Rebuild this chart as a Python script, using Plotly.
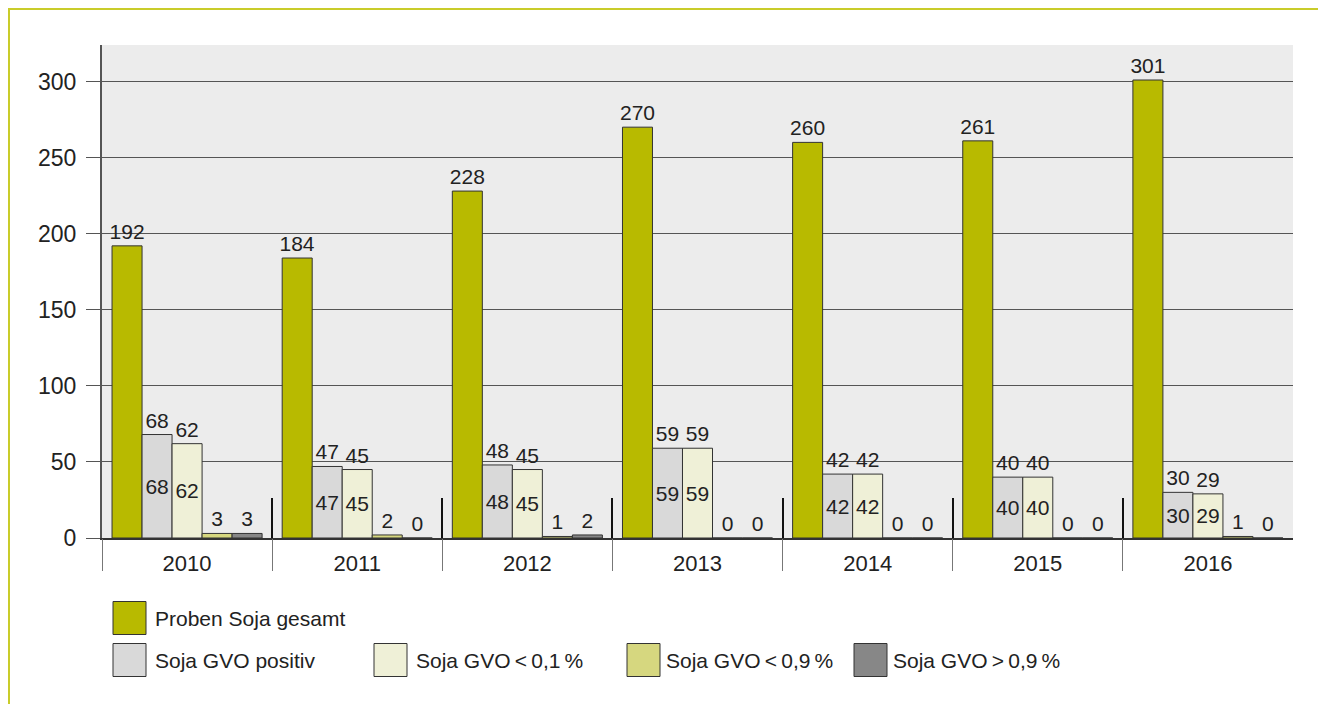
import plotly.graph_objects as go

years = ["2010", "2011", "2012", "2013", "2014", "2015", "2016"]
proben_gesamt = [192, 184, 228, 270, 260, 261, 301]
gvo_positiv = [68, 47, 48, 59, 42, 40, 30]
gvo_lt_01 = [62, 45, 45, 59, 42, 40, 29]
gvo_lt_09 = [3, 2, 1, 0, 0, 0, 1]
gvo_gt_09 = [3, 0, 2, 0, 0, 0, 0]

series_names = ["Proben Soja gesamt", "Soja GVO positiv", "Soja GVO\u2009<\u20090,1\u2009%",
                "Soja GVO\u2009<\u20090,9\u2009%", "Soja GVO\u2009>\u20090,9\u2009%"]
series_values = [proben_gesamt, gvo_positiv, gvo_lt_01, gvo_lt_09, gvo_gt_09]
series_colors = ["#b8ba00", "#d9d9d9", "#eff0d7", "#d6d77f", "#878787"]
inside_label_series = [1, 2]

FONT = "Liberation Sans"
TXT = "#222222"

# page is offset by the 8px body margin
OFF = 8
W, H = 1326 - OFF, 704 - OFF
ML, MR, MT, MB = 94, 33, 37, 166
PW = W - ML - MR
PH = H - MT - MB


def px2x(px):
    return (px - OFF - ML) / PW


def px2y(py):
    return (H - MB - (py - OFF)) / PH


fig = go.Figure()

for i, (name, vals, col) in enumerate(zip(series_names, series_values, series_colors)):
    fig.add_trace(go.Bar(
        x=years, y=vals, name=name, offsetgroup=str(i),
        marker=dict(color=col, line=dict(color="#333333", width=1)),
        text=[str(v) for v in vals], textposition="outside", cliponaxis=False,
        constraintext="none",
        textfont=dict(family=FONT, size=21, color=TXT),
        showlegend=False, hoverinfo="x+y",
    ))

for i in inside_label_series:
    vals = series_values[i]
    fig.add_trace(go.Bar(
        x=years, y=vals, offsetgroup=str(i),
        marker=dict(color="rgba(0,0,0,0)", line=dict(width=0)),
        text=[str(v) for v in vals], textposition="inside", insidetextanchor="middle",
        constraintext="none",
        textfont=dict(family=FONT, size=21, color=TXT),
        showlegend=False, hoverinfo="skip",
    ))

# empty helper traces so the overlaying tick axes get drawn
for ax in ["x2", "x3"]:
    fig.add_trace(go.Scatter(x=[], y=[], xaxis=ax, yaxis="y", showlegend=False,
                             hoverinfo="skip"))

boundaries = [i - 0.5 for i in range(len(years))]

fig.update_layout(
    width=W, height=H,
    margin=dict(l=ML, r=MR, t=MT, b=MB),
    paper_bgcolor="white", plot_bgcolor="#ececec",
    barmode="group", bargap=0.118, bargroupgap=0,
    font=dict(family=FONT, size=22, color=TXT),
    xaxis=dict(type="category", range=[-0.5, len(years) - 0.5], ticks="",
               showline=True, linecolor="#333333", linewidth=1.5,
               ticklabelstandoff=5, tickfont=dict(size=22, color=TXT),
               showgrid=False, zeroline=False, fixedrange=True),
    xaxis2=dict(overlaying="x", anchor="y", type="linear",
                range=[-0.5, len(years) - 0.5], tickvals=boundaries,
                ticks="outside", ticklen=32, tickwidth=1.2, tickcolor="#777777",
                showticklabels=False, showgrid=False, zeroline=False, showline=False),
    xaxis3=dict(overlaying="x", anchor="y", type="linear",
                range=[-0.5, len(years) - 0.5], tickvals=boundaries[1:],
                ticks="inside", ticklen=40, tickwidth=1.5, tickcolor="#111111",
                showticklabels=False, showgrid=False, zeroline=False, showline=False),
    yaxis=dict(range=[0, 324], tickvals=[0, 50, 100, 150, 200, 250, 300],
               ticks="outside", ticklen=14, tickcolor="#555555", tickwidth=1.2,
               ticklabelstandoff=5,
               showline=True, linecolor="#555555", linewidth=2,
               showgrid=True, gridcolor="#555555", gridwidth=1.2,
               zeroline=False, tickfont=dict(size=23, color=TXT)),
)

# frame
shapes = [dict(type="rect", xref="paper", yref="paper",
               x0=px2x(OFF + 1), x1=px2x(1340), y0=px2y(720), y1=px2y(OFF + 1),
               line=dict(color="#c9cc2a", width=2), fillcolor="rgba(0,0,0,0)", layer="below")]
annotations = []

# legend (manual, to match large swatches)
legend_items = [
    (0, 113, 618, 153),
    (1, 113, 660, 153),
    (2, 374, 660, 414),
    (3, 627, 660, 664),
    (4, 854, 660, 891),
]
sw = 33
for idx, sx, cy, tx in legend_items:
    shapes.append(dict(type="rect", xref="paper", yref="paper",
                       x0=px2x(sx), x1=px2x(sx + sw),
                       y0=px2y(cy + sw / 2), y1=px2y(cy - sw / 2),
                       fillcolor=series_colors[idx],
                       line=dict(color="#333333", width=1)))
    annotations.append(dict(xref="paper", yref="paper", x=px2x(tx), y=px2y(cy),
                            xanchor="left", yanchor="middle", showarrow=False,
                            text=series_names[idx],
                            font=dict(family=FONT, size=21, color=TXT)))

fig.update_layout(shapes=shapes, annotations=annotations)

fig.write_html("out.html")
